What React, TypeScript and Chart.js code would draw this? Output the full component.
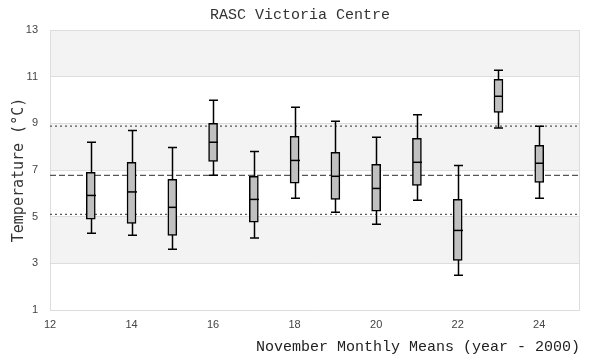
import React, { useEffect, useRef } from 'react';
import { Chart, registerables } from 'chart.js';

Chart.register(...registerables);

// Year (minus 2000) of each November
const years = [13, 14, 15, 16, 17, 18, 19, 20, 21, 22, 23, 24];
// Box-plot statistics (°C)
const whiskerLow = [4.29, 4.2, 3.6, 6.77, 4.09, 5.79, 5.19, 4.67, 5.7, 2.49, 8.8, 5.79];
const q1 = [4.89, 4.71, 4.2, 7.37, 4.76, 6.44, 5.74, 5.24, 6.34, 3.13, 9.47, 6.47];
const median = [5.91, 6.06, 5.4, 8.19, 5.74, 7.41, 6.73, 6.21, 7.33, 4.41, 10.16, 7.29];
const q3 = [6.9, 7.33, 6.6, 9.0, 6.73, 8.44, 7.76, 7.24, 8.36, 5.74, 10.89, 8.06];
const whiskerHigh = [8.19, 8.69, 7.96, 9.99, 7.79, 9.69, 9.09, 8.4, 9.37, 7.19, 11.27, 8.87];
// Reference lines
const overallMean = 6.77;
const upperBound = 8.88;
const lowerBound = 5.1;
// Tick labels
const xTicks = [12, 14, 16, 18, 20, 22, 24];
const yTicks = [1, 3, 5, 7, 9, 11, 13];

const CAP = 9;

const extras = {
  id: 'boxExtras',
  beforeDraw(chart: any) {
    const { ctx, chartArea: a, scales } = chart;
    const y = scales.y;
    ctx.save();
    ctx.fillStyle = '#ffffff';
    ctx.fillRect(0, 0, chart.width, chart.height);
    for (let i = 0; i < yTicks.length - 1; i++) {
      if (i % 2 === 1) {
        const top = y.getPixelForValue(yTicks[i + 1]);
        const bot = y.getPixelForValue(yTicks[i]);
        ctx.fillStyle = '#f3f3f3';
        ctx.fillRect(a.left, top, a.right - a.left, bot - top);
      }
    }
    ctx.restore();
  },
  beforeDatasetsDraw(chart: any) {
    const { ctx, chartArea: a, scales } = chart;
    const x = scales.x;
    const y = scales.y;
    ctx.save();
    // frame
    ctx.strokeStyle = '#dddddd';
    ctx.lineWidth = 1;
    ctx.beginPath();
    ctx.moveTo(Math.round(a.right) - 0.5, a.top);
    ctx.lineTo(Math.round(a.right) - 0.5, a.bottom);
    ctx.stroke();
    // reference lines
    ctx.strokeStyle = '#555555';
    ctx.lineWidth = 1.4;
    const hline = (v: number, dash: number[]) => {
      const py = y.getPixelForValue(v);
      ctx.setLineDash(dash);
      ctx.beginPath();
      ctx.moveTo(a.left, py);
      ctx.lineTo(a.right, py);
      ctx.stroke();
    };
    hline(upperBound, [2, 3]);
    hline(lowerBound, [2, 3]);
    hline(overallMean, [6, 3]);
    ctx.setLineDash([]);
    // whiskers
    ctx.strokeStyle = '#000000';
    ctx.lineWidth = 1.5;
    years.forEach((yr, i) => {
      const px = Math.round(x.getPixelForValue(yr)) + 0.5;
      const lo = y.getPixelForValue(whiskerLow[i]);
      const hi = y.getPixelForValue(whiskerHigh[i]);
      ctx.beginPath();
      ctx.moveTo(px, lo);
      ctx.lineTo(px, hi);
      ctx.moveTo(px - CAP / 2, lo);
      ctx.lineTo(px + CAP / 2, lo);
      ctx.moveTo(px - CAP / 2, hi);
      ctx.lineTo(px + CAP / 2, hi);
      ctx.stroke();
    });
    ctx.restore();
  },
  afterDatasetsDraw(chart: any) {
    const { ctx, scales } = chart;
    const x = scales.x;
    const y = scales.y;
    ctx.save();
    ctx.strokeStyle = '#000000';
    ctx.lineWidth = 1.5;
    years.forEach((yr, i) => {
      const px = Math.round(x.getPixelForValue(yr)) + 0.5;
      const py = y.getPixelForValue(median[i]);
      ctx.beginPath();
      ctx.moveTo(px - 4.5, py);
      ctx.lineTo(px + 4.5, py);
      ctx.stroke();
    });
    ctx.restore();
  },
};

export default function App() {
  const ref = useRef<HTMLCanvasElement | null>(null);
  useEffect(() => {
    if (!ref.current) return;
    const chart = new Chart(ref.current, {
      type: 'bar',
      data: {
        datasets: [
          {
            label: 'Interquartile range',
            data: years.map((yr, i) => ({ x: yr, y: [q1[i], q3[i]] })) as any,
            backgroundColor: '#c0c0c0',
            borderColor: '#000000',
            borderWidth: 1.5,
            borderSkipped: false,
            barThickness: 9,
          },
        ],
      },
      options: {
        animation: false,
        responsive: false,
        layout: { padding: { left: 0, right: 0, top: 0, bottom: 0 } },
        plugins: {
          legend: { display: false },
          tooltip: { enabled: false },
          title: {
            display: true,
            text: 'RASC Victoria Centre',
            color: '#333333',
            font: { family: 'Liberation Mono', size: 15, weight: 'normal', lineHeight: 1.2 },
            padding: { top: 6, bottom: 6 },
          },
        },
        scales: {
          x: {
            type: 'linear',
            min: 12,
            max: 25,
            offset: false,
            afterBuildTicks: (s: any) => {
              s.ticks = xTicks.map((v) => ({ value: v }));
            },
            afterFit: (s: any) => {
              s.height = 50;
            },
            grid: { display: false, drawTicks: false, offset: false },
            border: { display: false },
            ticks: {
              font: { family: 'Liberation Sans', size: 11 },
              color: '#444444',
              padding: 8,
              maxRotation: 0,
            },
            title: {
              display: true,
              text: 'November Monthly Means (year - 2000)',
              align: 'end',
              color: '#222222',
              font: { family: 'Liberation Mono', size: 15, weight: 'normal', lineHeight: 1.2 },
              padding: { top: 0, bottom: 4 },
            },
          },
          y: {
            type: 'linear',
            min: 1,
            max: 13,
            afterBuildTicks: (s: any) => {
              s.ticks = yTicks.map((v) => ({ value: v }));
            },
            afterFit: (s: any) => {
              s.width = 50;
            },
            grid: { color: '#dddddd', drawTicks: false },
            border: { color: '#dddddd' },
            ticks: {
              font: { family: 'Liberation Sans', size: 11 },
              color: '#444444',
              padding: 12,
            },
            title: {
              display: true,
              text: 'Temperature (°C)',
              color: '#333333',
              font: { family: 'DejaVu Sans Mono', size: 15, weight: 'normal', lineHeight: 1.2 },
              padding: { top: 10, bottom: 0 },
            },
          },
          yRightSpacer: {
            type: 'linear',
            position: 'right',
            display: true,
            min: 1,
            max: 13,
            afterFit: (s: any) => {
              s.width = 20;
            },
            grid: { display: false, drawTicks: false },
            border: { display: false },
            ticks: { display: false },
          },
        },
      } as any,
      plugins: [extras],
    });
    return () => chart.destroy();
  }, []);
  return (
    <div style={{ position: 'fixed', left: 0, top: 0, width: 600, height: 360, background: '#fff' }}>
      <canvas ref={ref} width={600} height={360} />
    </div>
  );
}
